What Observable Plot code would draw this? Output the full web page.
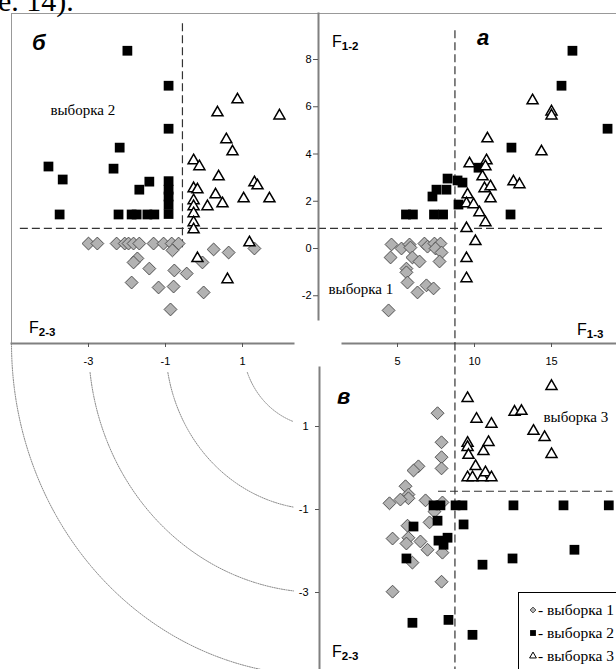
<!DOCTYPE html>
<html>
<head>
<meta charset="utf-8">
<script src="https://cdn.jsdelivr.net/npm/d3@7"></script>
<script src="https://cdn.jsdelivr.net/npm/@observablehq/plot@0.6"></script>
<style>
html, body { margin: 0; padding: 0; background: #fff; }
#wrap { position: relative; width: 616px; height: 669px; overflow: hidden; background: #fff; }
</style>
</head>
<body>
<div id="wrap"></div>
<script>
// ---------------- data ----------------
const ticksF12 = [-2, 0, 2, 4, 6, 8];
const ticksF13 = [5, 10, 15];
const ticksF23top = [-3, -1, 1];
const ticksF23left = [1, -1, -3];
const arcValues = [1, -1, -3, -5];
const arcCenter = 3;
const cutF12 = 0.85, cutF13 = 8.73, cutF23 = -0.56;
const sampleNames = ["выборка 1", "выборка 2", "выборка 3"];

// panel а : [F1-3, F1-2]
const a1 = [[4.61,0.17],[5.26,0.0],[5.78,0.17],[5.84,0.04],[6.75,0.21],[6.95,0.08],[7.40,0.21],[7.79,0.21],[7.47,0.0],[7.86,-0.17],[4.55,-0.38],[5.97,-0.38],[6.43,-0.55],[7.73,-0.55],[5.58,-0.85],[5.58,-1.01],[5.65,-1.44],[6.30,-1.86],[6.88,-1.56],[7.34,-1.69],[4.42,-2.62]];
const a2 = [[16.36,8.37],[15.65,6.89],[18.64,5.07],[12.40,4.27],[12.34,1.44],[5.55,1.44],[6.00,1.44],[7.37,1.44],[7.96,1.44],[7.27,2.20],[7.53,2.49],[8.18,2.49],[8.25,2.96],[8.90,2.88],[9.22,2.79],[8.96,1.86],[10.26,3.42]];
const a3 = [[13.77,6.26],[15.0,5.79],[15.0,5.62],[10.84,4.65],[14.35,4.10],[9.68,3.59],[10.78,3.72],[10.71,3.47],[10.52,3.04],[12.53,2.83],[12.92,2.71],[10.65,2.54],[11.04,2.62],[11.04,2.11],[9.55,2.28],[9.48,1.90],[9.94,1.86],[10.32,1.52],[10.71,1.10],[9.48,0.85],[10.06,0.30],[9.48,-0.42],[9.48,-1.27]];

// panel б : [F2-3, F1-2]
const b1 = [[-3.0,0.21],[-2.77,0.21],[-2.27,0.21],[-2.06,0.21],[-1.96,0.21],[-1.83,0.21],[-1.68,0.21],[-1.31,0.21],[-1.05,0.21],[-0.84,0.21],[-0.66,0.21],[-0.82,-0.08],[-1.73,-0.42],[-1.83,-0.59],[-1.42,-0.85],[-0.77,-0.93],[-0.45,-1.06],[-0.04,-0.59],[0.25,-0.04],[0.64,-0.17],[1.31,0.0],[-1.88,-1.44],[-1.18,-1.65],[-0.79,-1.61],[-0.01,-1.86],[-0.87,-2.58]];
const b2 = [[-1.99,8.37],[-0.92,6.89],[-0.92,5.07],[-2.19,4.27],[-4.04,3.47],[-3.67,2.92],[-2.35,3.38],[-1.42,2.83],[-1.68,2.49],[-0.92,2.85],[-0.92,2.49],[-0.92,2.20],[-0.92,1.86],[-0.92,1.46],[-3.75,1.44],[-2.22,1.44],[-1.88,1.44],[-1.75,1.44],[-1.47,1.44],[-1.29,1.44]];
const b3 = [[0.87,6.30],[0.35,5.75],[1.96,5.62],[0.58,4.61],[0.74,4.10],[-0.27,3.72],[-0.12,3.47],[0.38,3.04],[1.31,2.79],[1.39,2.66],[-0.27,2.54],[-0.17,2.49],[0.30,2.28],[0.48,1.90],[1.03,2.11],[1.70,2.11],[0.09,1.78],[-0.27,2.03],[-0.27,1.78],[-0.27,1.48],[-0.27,1.10],[-0.27,0.80],[1.18,0.25],[-0.17,-0.42],[0.61,-1.31]];

// panel в : [F1-3, F2-3]
const c1 = [[7.60,1.32],[7.86,0.62],[7.86,0.26],[7.86,-0.01],[6.36,0.04],[6.04,-0.06],[5.52,-0.44],[5.71,-0.64],[5.71,-0.73],[4.48,-0.85],[5.19,-0.76],[6.82,-0.78],[7.92,-0.83],[7.40,-1.05],[7.08,-1.31],[5.65,-1.39],[4.68,-1.70],[5.71,-1.68],[5.58,-1.82],[6.49,-1.77],[6.95,-1.97],[7.92,-2.04],[5.97,-2.28],[7.86,-2.74],[4.68,-2.98]];
const c2 = [[7.34,-0.90],[7.79,-0.90],[8.77,-0.90],[9.22,-0.90],[12.53,-0.90],[15.78,-0.90],[18.72,-0.90],[7.60,-1.27],[6.04,-1.41],[9.29,-1.36],[7.66,-1.75],[8.25,-1.68],[7.99,-1.85],[5.58,-2.18],[10.52,-2.33],[12.47,-2.18],[16.49,-1.97],[5.97,-3.73],[8.31,-3.66],[9.87,-4.02]];
const c3 = [[15.0,1.97],[9.55,1.68],[10.13,1.18],[11.10,1.06],[12.60,1.35],[13.05,1.37],[13.83,0.89],[14.55,0.74],[15.0,0.33],[9.55,0.60],[9.55,0.50],[9.61,0.31],[10.91,0.62],[10.58,0.40],[10.07,0.04],[9.55,-0.23],[9.87,-0.23],[10.52,-0.23],[10.71,-0.11],[11.10,-0.23]];

// ---------------- layout ----------------
const W = 616, H = 669;
const wrap = document.getElementById("wrap");
const FONT = "'Liberation Sans', Arial, sans-serif";
const SERIF = "'Liberation Serif', 'Times New Roman', serif";
const DASH = "8,4";
const AXIS = "#808080";
const fmt = d => String(d);

// scales shared by panels (page pixel ranges)
const sF13 = {domain: [5, 15], range: [397, 551]};
const sF12 = {domain: [0, 8], range: [248, 59]};
const sF23h = {domain: [-1, 1], range: [165, 242]};
const sF23v = {domain: [-1, 1], range: [509, 426]};

function layer(opts) {
  const svg = Plot.plot({
    width: W, height: H, ...opts,
    style: `position:absolute;left:0;top:0;background:transparent;overflow:visible;font-family:${FONT};font-size:11px;color:#000;`
  });
  wrap.appendChild(svg);
  return svg;
}

function dots(s1, s2, s3) {
  return [
    Plot.dot(s1, {x: d => d[0], y: d => d[1], symbol: "diamond2", r: 5.8, fill: "#b2b2b2", stroke: "#505050", strokeWidth: 1}),
    Plot.dot(s2, {x: d => d[0], y: d => d[1], symbol: "square", r: 5.5, fill: "#000", stroke: "none"}),
    Plot.dot(s3, {x: d => d[0], y: d => d[1], symbol: "triangle", r: 4.1, fill: "#fff", stroke: "#000", strokeWidth: 1.5})
  ];
}

// outer border (top + left)
layer({
  marginLeft: 11, marginTop: 13, marginRight: 0, marginBottom: 326,
  marks: [
    Plot.frame({anchor: "top", stroke: "#999", strokeWidth: 1}),
    Plot.frame({anchor: "left", stroke: "#999", strokeWidth: 1})
  ]
});

// arcs linking F2-3 axes (quadrant bottom-left)
const arcPts = [];
for (const v of arcValues) {
  const r = arcCenter - v;
  const t0 = ticksF23top.includes(v) ? Math.asin(0.7 / r) : 0;
  const t1 = ticksF23left.includes(v) ? Math.acos(0.675 / r) : Math.PI / 2;
  for (let i = 0; i <= 90; i++) {
    const t = t0 + (t1 - t0) * i / 90;
    arcPts.push({v, x: arcCenter - r * Math.cos(t), y: arcCenter - r * Math.sin(t)});
  }
}
layer({
  margin: 0,
  x: {...sF23h, axis: null}, y: {...sF23v, axis: null},
  marks: [Plot.line(arcPts, {x: "x", y: "y", z: "v", stroke: "#8a8a8a", strokeWidth: 1, strokeDasharray: "1.2,1.2"})]
});

// panel б
layer({
  marginLeft: 11, marginTop: 13, marginRight: 323, marginBottom: 326,
  x: sF23h, y: {...sF12, axis: null},
  marks: [
    Plot.ruleY([cutF12], {y: d => d, x1: -4.77, x2: 2.97, stroke: "#333", strokeWidth: 1.2, strokeDasharray: DASH}),
    Plot.ruleX([cutF23], {x: d => d, y1: 9.51, y2: -0.1, stroke: "#333", strokeWidth: 1.2, strokeDasharray: DASH}),
    Plot.frame({anchor: "bottom", stroke: AXIS, strokeWidth: 2}),
    Plot.axisX({anchor: "bottom", ticks: ticksF23top, tickFormat: fmt, tickSize: 4, tickPadding: 10, label: null, stroke: "#555", fontSize: 11}),
    ...dots(b1, b2, b3),
    Plot.text([sampleNames[1]], {x: -3.99, y: 5.86, text: d => d, textAnchor: "start", fontFamily: SERIF, fontSize: 15, fill: "#000"})
  ]
});

// panel а
layer({
  marginLeft: 318, marginTop: 13, marginRight: 0, marginBottom: 350,
  x: {...sF13, axis: null}, y: sF12,
  marks: [
    Plot.ruleY([cutF12], {y: d => d, x1: -0.13, x2: 18.5, stroke: "#333", strokeWidth: 1.2, strokeDasharray: DASH}),
    Plot.ruleX([cutF13], {x: d => d, y1: 9.22, y2: -4.02, stroke: "#333", strokeWidth: 1.2, strokeDasharray: DASH}),
    Plot.frame({anchor: "left", stroke: AXIS, strokeWidth: 2}),
    Plot.axisY({anchor: "left", ticks: ticksF12, tickFormat: fmt, tickSize: 5, tickPadding: 2, label: null, stroke: "#555", fontSize: 11}),
    ...dots(a1, a2, a3),
    Plot.text([sampleNames[0]], {x: 0.52, y: -1.72, text: d => d, textAnchor: "start", fontFamily: SERIF, fontSize: 15, fill: "#000"})
  ]
});

// shared F1-3 axis between а and в
layer({
  marginLeft: 342, marginTop: 0, marginRight: 0, marginBottom: 326,
  x: sF13,
  marks: [
    Plot.frame({anchor: "bottom", stroke: AXIS, strokeWidth: 2}),
    Plot.axisX({anchor: "bottom", ticks: ticksF13, tickFormat: fmt, tickSize: 4, tickPadding: 10, label: null, stroke: "#555", fontSize: 11})
  ]
});

// panel в
layer({
  marginLeft: 319, marginTop: 367, marginRight: 0, marginBottom: 0,
  x: {...sF13, axis: null}, y: sF23v,
  marks: [
    Plot.ruleY([cutF23], {y: d => d, x1: 7.66, x2: 19.0, stroke: "#333", strokeWidth: 1.2, strokeDasharray: DASH}),
    Plot.ruleX([cutF13], {x: d => d, y1: 3.01, y2: -4.9, stroke: "#333", strokeWidth: 1.2, strokeDasharray: DASH}),
    Plot.frame({anchor: "left", stroke: AXIS, strokeWidth: 2}),
    Plot.axisY({anchor: "left", ticks: ticksF23left, tickFormat: fmt, tickSize: 4, tickPadding: 7, label: null, stroke: "#555", fontSize: 11}),
    ...dots(c1, c2, c3),
    Plot.text([sampleNames[2]], {x: 14.48, y: 1.22, text: d => d, textAnchor: "start", fontFamily: SERIF, fontSize: 15, fill: "#000"})
  ]
});

// ---------------- text overlay: titles, panel letters, legend ----------------
const ov = d3.create("svg").attr("width", W).attr("height", H)
  .attr("style", "position:absolute;left:0;top:0;overflow:hidden;");

ov.append("text").attr("x", -2).attr("y", 11).attr("font-family", SERIF).attr("font-size", 30).text("е. 14).");

function fLabel(x, y, sub) {
  const t = ov.append("text").attr("x", x).attr("y", y).attr("font-family", FONT).attr("font-size", 16).attr("fill", "#000").text("F");
  t.append("tspan").attr("dy", 3).attr("font-size", 11.5).attr("font-weight", "bold").text(sub);
}
fLabel(332, 47, "1-2");
fLabel(577, 335, "1-3");
fLabel(29, 333, "2-3");
fLabel(332, 657, "2-3");

function letter(x, y, s) {
  ov.append("text").attr("x", x).attr("y", y).attr("font-family", FONT).attr("font-size", 22)
    .attr("font-weight", "bold").attr("font-style", "italic").text(s);
}
letter(32, 50, "б");
letter(477, 45, "а");
letter(337, 404, "в");

// legend
const lg = ov.append("g");
lg.append("rect").attr("x", 518.5).attr("y", 592.5).attr("width", 120).attr("height", 100).attr("fill", "#fff").attr("stroke", "#000").attr("stroke-width", 1);
const legendSymbols = [
  {sym: d3.symbolDiamond2, size: 22, fill: "#b2b2b2", stroke: "#505050", sw: 1},
  {sym: d3.symbolSquare, size: 34, fill: "#000", stroke: "none", sw: 0},
  {sym: d3.symbolTriangle, size: 20, fill: "#fff", stroke: "#000", sw: 1}
];
sampleNames.forEach((name, i) => {
  const y = 610 + i * 23;
  const s = legendSymbols[i];
  lg.append("path").attr("transform", `translate(533,${y})`).attr("d", d3.symbol(s.sym, s.size)())
    .attr("fill", s.fill).attr("stroke", s.stroke).attr("stroke-width", s.sw);
  lg.append("text").attr("x", 538).attr("y", y + 5).attr("font-family", SERIF).attr("font-size", 15.5).text("- " + name);
});

wrap.appendChild(ov.node());
</script>
</body>
</html>
